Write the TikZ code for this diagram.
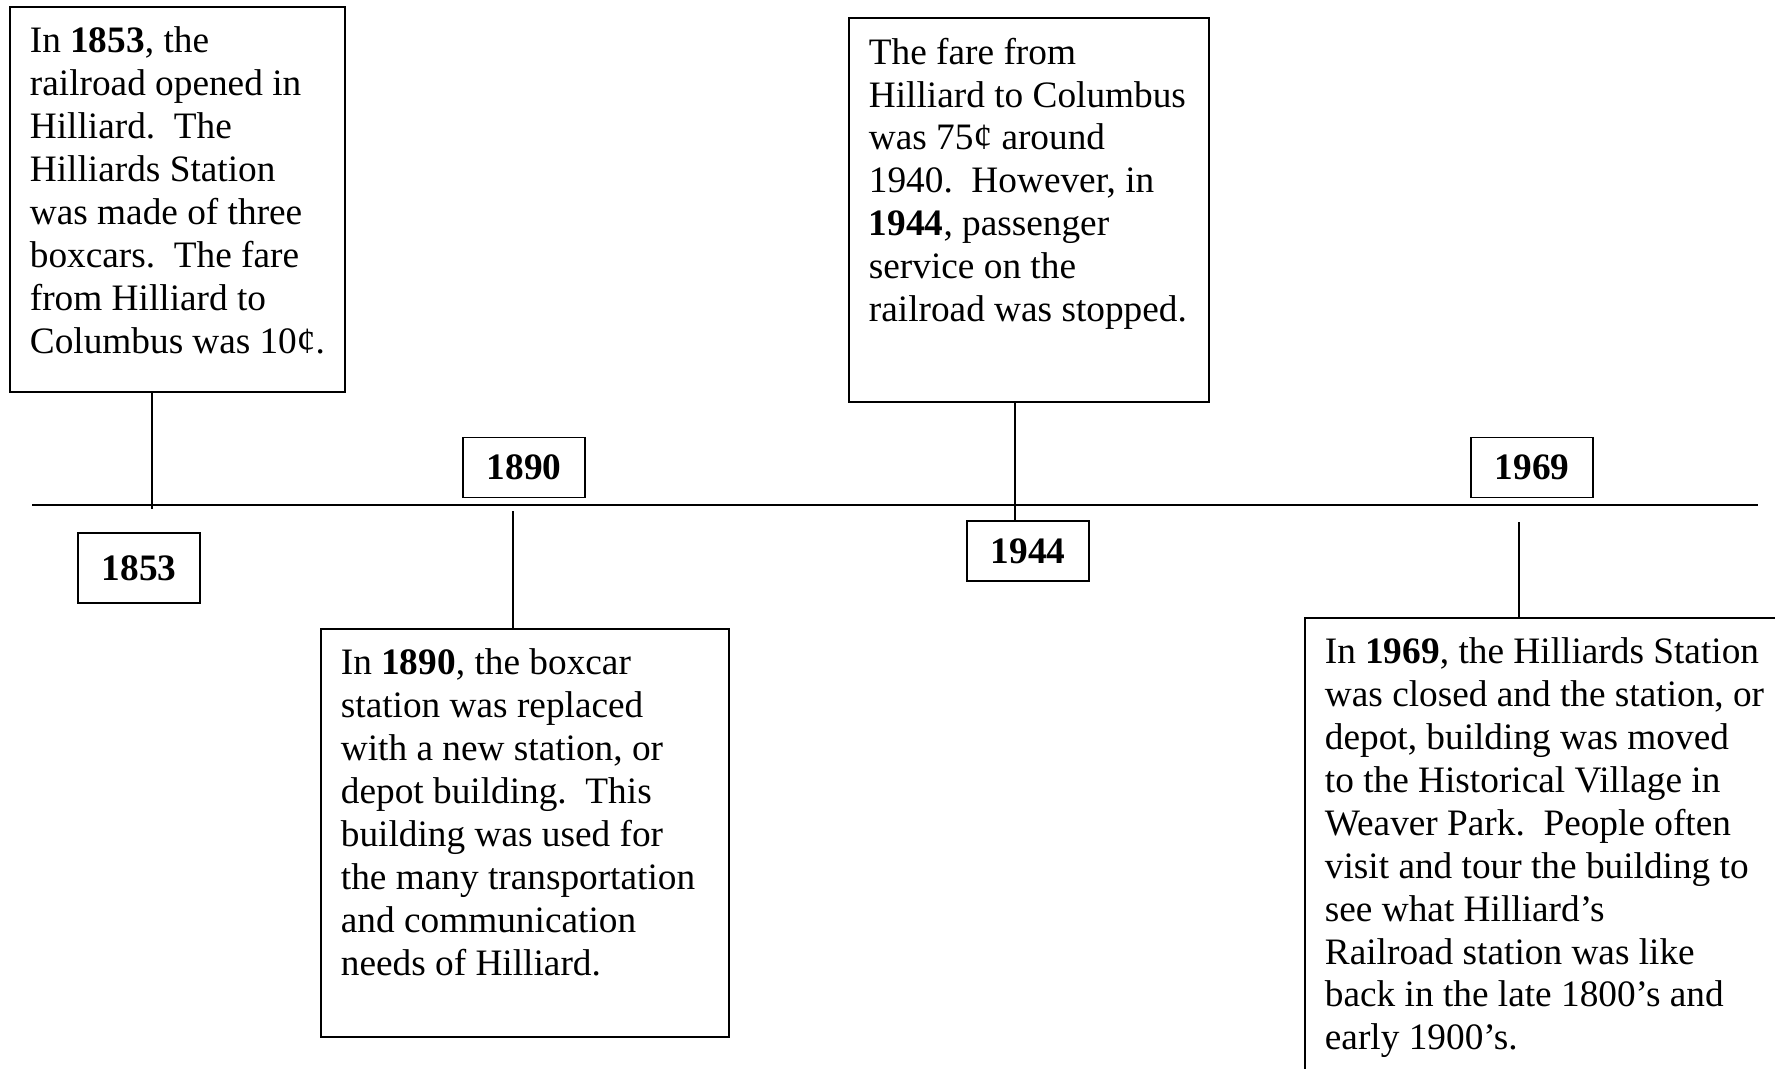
\documentclass[tikz,border=0pt]{standalone}
\usepackage{fontspec}
\setmainfont{Liberation Serif}
\usetikzlibrary{positioning, calc}

\newcommand{\tlsize}{\fontsize{18.65}{21.45}\selectfont}
\newcommand{\boxtext}[3]{\parbox[t][#2][t]{#1}{#3}}
\tikzset{
  infobox/.style={draw, line width=0.9pt, anchor=north west, inner xsep=10pt, inner ysep=10pt, font=\tlsize},
  yearbox/.style={draw, line width=0.9pt, minimum width=61pt, minimum height=30pt, inner sep=0pt, font=\tlsize\bfseries},
  link/.style={line width=0.7pt}
}

\begin{document}
\begin{tikzpicture}[x=0.5pt, y=-0.5pt]
\useasboundingbox (0,0) rectangle (1775,1069);
\clip (0,0) rectangle (1775,1069);
% time line
\coordinate (tl) at (32,505);
\coordinate (tr) at (1758,505);
\draw[link] (tl) -- (tr);

\node[infobox] (box1853) at (9,6) {\boxtext{147.5pt}{172.5pt}{%
In \textbf{1853}, the\\
railroad opened in\\
Hilliard.\ \ The\\
Hilliards Station\\
was made of three\\
boxcars.\ \ The fare\\
from Hilliard to\\
Columbus was 10¢.}};
\node[infobox] (box1944) at (848,17) {\boxtext{160pt}{172pt}{%
The fare from\\
Hilliard to Columbus\\
was 75¢ around\\
1940.\ \ However, in\\
\textbf{1944}, passenger\\
service on the\\
railroad was stopped.}};
\node[infobox] (box1890) at (320,628) {\boxtext{184pt}{184pt}{%
In \textbf{1890}, the boxcar\\
station was replaced\\
with a new station, or\\
depot building.\ \ This\\
building was used for\\
the many transportation\\
and communication\\
needs of Hilliard.}};
\node[infobox] (box1969) at (1304,617) {\boxtext{230pt}{230pt}{%
In \textbf{1969}, the Hilliards Station\\
was closed and the station, or\\
depot, building was moved\\
to the Historical Village in\\
Weaver Park.\ \ People often\\
visit and tour the building to\\
see what Hilliard’s\\
Railroad station was like\\
back in the late 1800’s and\\
early 1900’s.}};

\node[yearbox, minimum height=35pt] (y1853) at (139,568) {1853};
\node[yearbox] (y1890) at (524,467.5) {1890};
\node[yearbox] (y1944) at (1028,551) {1944};
\node[yearbox] (y1969) at (1532,467.5) {1969};

\coordinate (a) at (152,509);
\coordinate (b) at (513,511);
\coordinate (c) at (1015,505);
\coordinate (d) at (1519,522);
\draw[link] (box1853.south -| a) -- (a);
\draw[link] (b) -- (b |- box1890.north);
\draw[link] (box1944.south -| c) -- (c |- y1944.north);
\draw[link] (d) -- (d |- box1969.north);
\end{tikzpicture}
\end{document}
